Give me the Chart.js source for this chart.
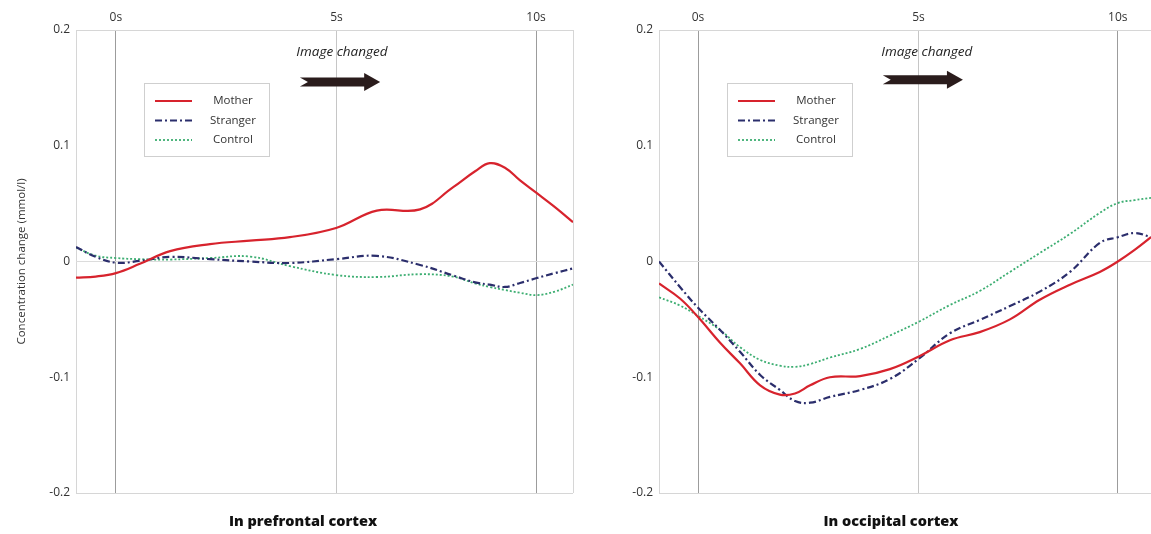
<!DOCTYPE html>
<html>
<head>
<meta charset="utf-8">
<script src="https://cdn.jsdelivr.net/npm/chart.js@4.4.0/dist/chart.umd.min.js"></script>
<style>
    body { margin: 0; background: #fff; }
    #wrap { display: flex; width: 1151px; height: 534px; }
</style>
</head>
<body>
<div id="wrap">
    <canvas id="left_chart" width="580" height="534"></canvas>
    <canvas id="right_chart" width="571" height="534"></canvas>
</div>
<script>
// time axis: seconds after image onset (the 5s mark sits a bit right in the original)
const tickTimes = [0, 5.25, 10];
const tickLabels = ['0s', '5s', '10s'];
const seriesNames = ['Mother', 'Stranger', 'Control'];

// prefrontal cortex
const leftTime = [-0.95, -0.48, 0, 0.57, 1.29, 2.24, 3.19, 4.14, 5.24, 6.21, 7.24, 8.02, 8.55, 8.9, 9.26, 9.62, 10.02, 10.45, 10.88];
const leftMother = [-0.014, -0.013, -0.010, -0.002, 0.009, 0.015, 0.018, 0.021, 0.029, 0.044, 0.045, 0.064, 0.078, 0.085, 0.081, 0.070, 0.059, 0.047, 0.034];
const leftStranger = [0.0125, 0.004, -0.001, 0.0005, 0.004, 0.002, 0, -0.0013, 0.002, 0.0048, -0.003, -0.012, -0.018, -0.020, -0.022, -0.0186, -0.0143, -0.010, -0.006];
const leftControl = [0.012, 0.005, 0.003, 0.002, 0.0017, 0.003, 0.0043, -0.004, -0.0117, -0.0134, -0.011, -0.013, -0.019, -0.022, -0.0246, -0.027, -0.029, -0.026, -0.020];

// occipital cortex
const rightTime = [-0.93, -0.43, 0, 0.52, 1.0, 1.48, 1.95, 2.31, 2.67, 3.14, 3.86, 4.57, 5.26, 6.0, 6.71, 7.43, 8.14, 8.86, 9.57, 10.0, 10.4, 10.79];
const rightMother = [-0.019, -0.032, -0.048, -0.070, -0.088, -0.107, -0.115, -0.114, -0.107, -0.100, -0.099, -0.093, -0.082, -0.068, -0.061, -0.050, -0.033, -0.020, -0.009, 0, 0.010, 0.021];
const rightStranger = [0, -0.022, -0.040, -0.059, -0.078, -0.098, -0.111, -0.1205, -0.122, -0.117, -0.111, -0.1015, -0.084, -0.062, -0.0505, -0.0385, -0.026, -0.009, 0.016, 0.021, 0.0246, 0.021];
const rightControl = [-0.031, -0.038, -0.047, -0.059, -0.074, -0.085, -0.090, -0.091, -0.0886, -0.083, -0.0756, -0.064, -0.052, -0.0376, -0.0255, -0.009, 0.0073, 0.0238, 0.042, 0.0505, 0.053, 0.055];

const styles = [
    { borderColor: '#d7232d', borderWidth: 2.2, borderDash: [] },
    { borderColor: '#2b2e6c', borderWidth: 2.2, borderDash: [7, 3, 2, 3] },
    { borderColor: '#3dae72', borderWidth: 1.8, borderDash: [2, 2] }
];

const FONT = '"Open Sans", "DejaVu Sans", sans-serif';

function toPoints(times, values) {
    return times.map((t, i) => ({ x: t, y: values[i] }));
}

// legend box, "Image changed" arrow and panel caption
const decorations = {
    id: 'decorations',
    afterDraw(chart, args, opts) {
        const ctx = chart.ctx;
        const area = chart.chartArea;
        const xs = chart.scales.x;
        const ys = chart.scales.y;
        ctx.save();

        // legend
        const bx = area.left + 68, by = area.top + 53;
        ctx.fillStyle = '#fff';
        ctx.fillRect(bx, by, 125, 73);
        ctx.strokeStyle = '#cfcfcf';
        ctx.lineWidth = 1;
        ctx.strokeRect(bx + 0.5, by + 0.5, 125, 73);
        ctx.font = '11.5px ' + FONT;
        ctx.textAlign = 'center';
        ctx.textBaseline = 'middle';
        chart.data.datasets.forEach((ds, i) => {
            const yy = by + 18 + i * 19.5;
            ctx.beginPath();
            ctx.strokeStyle = ds.borderColor;
            ctx.lineWidth = ds.borderWidth;
            ctx.setLineDash(ds.borderDash);
            ctx.moveTo(bx + 11, yy);
            ctx.lineTo(bx + 48, yy);
            ctx.stroke();
            ctx.setLineDash([]);
            ctx.fillStyle = '#333';
            ctx.fillText(ds.label, bx + 89, yy);
        });

        // annotation
        const tx = xs.getPixelForValue(opts.textAt[0]);
        const ty = ys.getPixelForValue(opts.textAt[1]);
        ctx.font = 'italic 13.5px ' + FONT;
        ctx.fillStyle = '#222';
        ctx.fillText('Image changed', tx, ty);

        const x1 = xs.getPixelForValue(opts.arrow[0]);
        const x2 = xs.getPixelForValue(opts.arrow[1]);
        const ay = ys.getPixelForValue(opts.arrow[2]);
        ctx.fillStyle = '#2a1c1c';
        ctx.beginPath();
        ctx.moveTo(x1, ay - 4.5);
        ctx.lineTo(x2 - 16, ay - 4.5);
        ctx.lineTo(x2 - 16, ay - 9);
        ctx.lineTo(x2, ay);
        ctx.lineTo(x2 - 16, ay + 9);
        ctx.lineTo(x2 - 16, ay + 4.5);
        ctx.lineTo(x1, ay + 4.5);
        ctx.lineTo(x1 + 8, ay);
        ctx.closePath();
        ctx.fill();

        // caption under panel
        ctx.font = '800 14.5px ' + FONT;
        ctx.fillStyle = '#111';
        ctx.fillText(opts.caption, opts.captionX, 522);
        ctx.restore();
    }
};

function makePanel(canvasId, p) {
    const config = {
        type: 'line',
        data: {
            datasets: [p.mother, p.stranger, p.control].map((vals, i) => ({
                label: seriesNames[i],
                data: toPoints(p.time, vals),
                borderColor: styles[i].borderColor,
                borderWidth: styles[i].borderWidth,
                borderDash: styles[i].borderDash,
                pointRadius: 0,
                tension: 0.4,
                fill: false
            }))
        },
        options: {
            responsive: false,
            animation: false,
            layout: { padding: { top: 0, right: p.padRight, bottom: 41, left: 0 } },
            scales: {
                x: {
                    type: 'linear',
                    position: 'top',
                    min: p.xMin,
                    max: p.xMax,
                    afterBuildTicks: (scale) => {
                        scale.ticks = [p.xMin].concat(tickTimes, [p.xMax]).map(v => ({ value: v }));
                    },
                    afterFit: (scale) => {
                        scale.height = 30;
                        scale.paddingLeft = 0;
                        scale.paddingRight = 0;
                    },
                    border: { display: false },
                    grid: {
                        drawTicks: false,
                        lineWidth: 1,
                        color: (c) => {
                            const v = c.tick.value;
                            if (v === 0 || v === 10) return '#9c9c9c';
                            if (v === 5.25) return '#c6c6c6';
                            return '#d6d6d6';
                        }
                    },
                    ticks: {
                        padding: 5,
                        color: '#333',
                        font: { family: FONT, size: 12 },
                        maxRotation: 0,
                        autoSkip: false,
                        callback: (value) => {
                            const i = tickTimes.indexOf(value);
                            return i >= 0 ? tickLabels[i] : '';
                        }
                    }
                },
                y: {
                    min: -0.2,
                    max: 0.2,
                    afterFit: (scale) => { scale.width = p.yWidth; },
                    border: { display: false },
                    grid: {
                        drawTicks: false,
                        color: (c) => {
                            const v = Math.abs(c.tick.value);
                            if (v > 0.19) return '#d6d6d6';
                            if (v < 0.001) return '#dcdcdc';
                            return 'rgba(0,0,0,0)';
                        }
                    },
                    ticks: {
                        stepSize: 0.1,
                        padding: 6,
                        color: '#333',
                        font: { family: FONT, size: 12 },
                        callback: (value) => Math.abs(value) < 0.001 ? '0' : value.toFixed(1)
                    },
                    title: {
                        display: p.yTitle,
                        text: 'Concentration change (mmol/l)',
                        color: '#333',
                        font: { family: FONT, size: 11.5 },
                        padding: { top: 15, bottom: 0 }
                    }
                }
            },
            plugins: {
                legend: { display: false },
                tooltip: { enabled: false },
                decorations: {
                    textAt: p.textAt,
                    arrow: p.arrow,
                    caption: p.caption,
                    captionX: p.captionX
                }
            }
        },
        plugins: [decorations]
    };
    return new Chart(document.getElementById(canvasId), config);
}

const prefrontal = makePanel('left_chart', {
    time: leftTime, mother: leftMother, stranger: leftStranger, control: leftControl,
    xMin: -0.95, xMax: 10.88, padRight: 7, yWidth: 76, yTitle: true,
    textAt: [5.38, 0.181], arrow: [4.38, 6.29, 0.155],
    caption: 'In prefrontal cortex', captionX: 303
});

const occipital = makePanel('right_chart', {
    time: rightTime, mother: rightMother, stranger: rightStranger, control: rightControl,
    xMin: -0.93, xMax: 10.79, padRight: 0, yWidth: 79, yTitle: false,
    textAt: [5.45, 0.181], arrow: [4.40, 6.31, 0.157],
    caption: 'In occipital cortex', captionX: 311
});
</script>
</body>
</html>
